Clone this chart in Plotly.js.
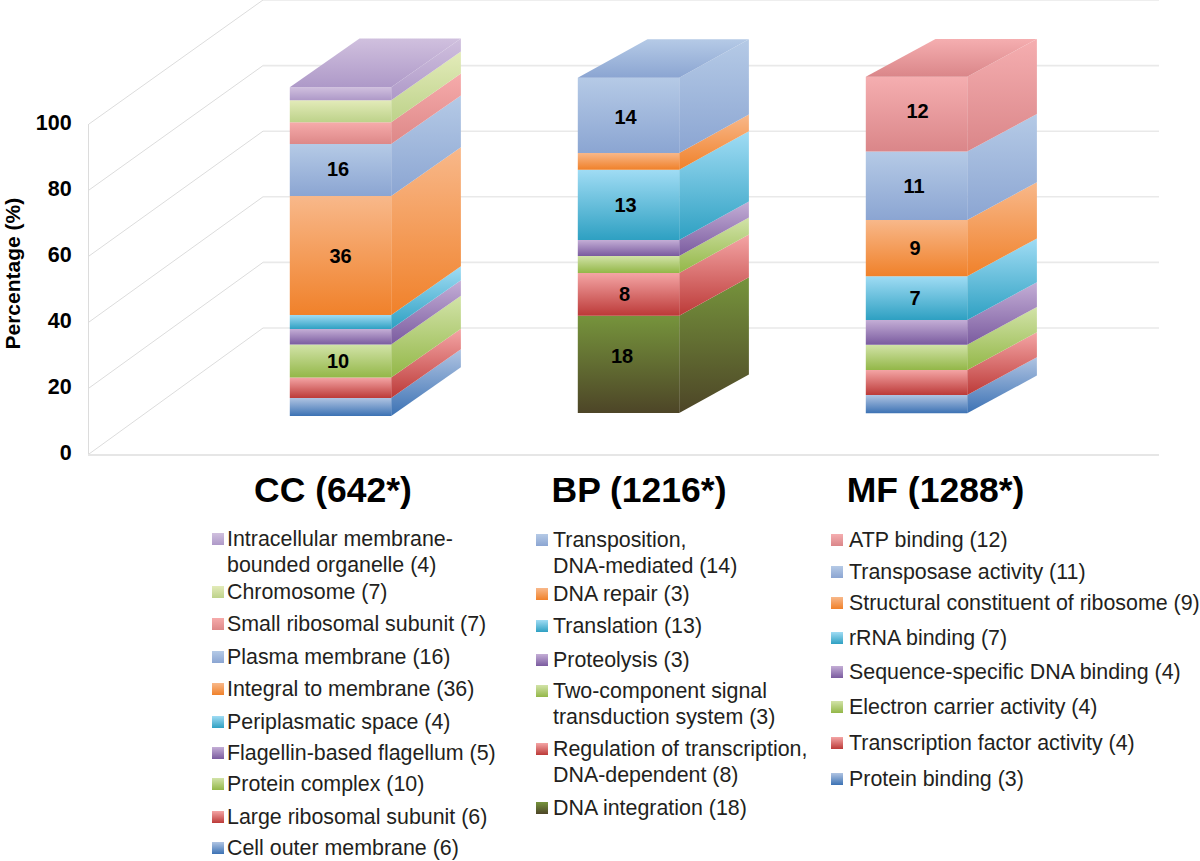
<!DOCTYPE html>
<html><head><meta charset="utf-8">
<script src="https://cdn.plot.ly/plotly-3.0.1.min.js"></script>
<style>html,body{margin:0;padding:0;background:#fff}#c{width:1200px;height:861px}</style>
</head><body><div id="c"></div>
<script>
// ---------- data ----------
const categories = ['CC (642*)', 'BP (1216*)', 'MF (1288*)'];
const yTicks = [0, 20, 40, 60, 80, 100];

// bottom-to-top stacked segment heights (percent)
const ccValues = [5.45, 6.2, 10, 4.7, 4.25, 36.05, 15.75, 6.65, 6.65, 3.95];
const bpValues = [29.5, 12.95, 5.15, 4.85, 21.3, 5.05, 22.8];
const mfValues = [5.55, 7.6, 7.65, 7.5, 13.25, 17.05, 20.7, 22.7];

// printed labels on the segments ('' = none)
const ccLabels = ['', '', '10', '', '', '36', '16', '', '', ''];
const bpLabels = ['18', '8', '', '', '13', '', '14'];
const mfLabels = ['', '', '', '', '7', '9', '11', '12'];

// legend texts, top to bottom
const ccLegend = ['Intracellular membrane-<br>bounded organelle (4)', 'Chromosome (7)', 'Small ribosomal subunit (7)',
  'Plasma membrane (16)', 'Integral to membrane (36)', 'Periplasmatic space (4)', 'Flagellin-based flagellum (5)',
  'Protein complex (10)', 'Large ribosomal subunit (6)', 'Cell outer membrane (6)'];
const bpLegend = ['Transposition,<br>DNA-mediated (14)', 'DNA repair (3)', 'Translation (13)', 'Proteolysis (3)',
  'Two-component signal<br>transduction system (3)', 'Regulation of transcription,<br>DNA-dependent (8)', 'DNA integration (18)'];
const mfLegend = ['ATP binding (12)', 'Transposase activity (11)', 'Structural constituent of ribosome (9)', 'rRNA binding (7)',
  'Sequence-specific DNA binding (4)', 'Electron carrier activity (4)', 'Transcription factor activity (4)', 'Protein binding (3)'];

// ---------- styles ----------
const pal = {
  blueD: ['#b0c4e2', '#3c72b4'], red: ['#f4a5a5', '#bc3a38'], green: ['#d2e3a8', '#93b748'], purpleD: ['#c4aed6', '#7a5b9f'],
  cyan: ['#a0dcf4', '#2ea0c2'], orange: ['#f8b88a', '#f0812a'], blue: ['#b5cae6', '#8ba5d2'], pink: ['#f6abab', '#dd8888'],
  greenL: ['#e3ebb9', '#bdd28a'], purple: ['#d0c0de', '#ae99c8'], olive: ['#76943c', '#4d4527'], rose: ['#f5aeb0', '#da8689']
};
const ccColors = ['blueD', 'red', 'green', 'purpleD', 'cyan', 'orange', 'blue', 'pink', 'greenL', 'purple'];
const bpColors = ['olive', 'red', 'green', 'purpleD', 'cyan', 'orange', 'blue'];
const mfColors = ['blueD', 'red', 'green', 'purpleD', 'cyan', 'orange', 'blue', 'rose'];

const TEXT = '#231f20', FONT = '"Liberation Sans", Arial, sans-serif';
const PX_X0 = 340.5, PX_PER_CAT = 288, PX_Y0 = 454, PX_PER_PCT = 3.3;
const X = px => (px - PX_X0) / PX_PER_CAT;
const Y = px => (PX_Y0 - px) / PX_PER_PCT;
const HALF = 50.7 / PX_PER_CAT, DX = 69.7 / PX_PER_CAT;
const LABEL_DROP = 2;
const barStyle = [
  {base: 38 / PX_PER_PCT, dy: 48.7 / PX_PER_PCT, ny: [0, 0, 0, 0, 0, 0, -1.5, 0, 0, 0], nx: [0, 0, -2.5, 0, 0, 0, -2.5, 0, 0, 0]},
  {base: 41 / PX_PER_PCT, dy: 38.5 / PX_PER_PCT, ny: [-8, 0, 0, 0, 0, 0, 1.5], nx: [-6.5, -4, 0, 0, -3, 0, -3]},
  {base: 40.7 / PX_PER_PCT, dy: 37.7 / PX_PER_PCT, ny: [0, 0, 0, 0, 0, 0, 0, -3], nx: [0, 0, 0, 0, -1.5, -1.5, -2.5, 1]}
];

const traces = [];
const cs = c => [[0, c[1]], [1, c[0]]];
function poly(xs, ys, c) {
  traces.push({type: 'scatter', mode: 'none', x: [...xs, xs[0]], y: [...ys, ys[0]], fill: 'toself',
    fillgradient: {type: 'vertical', colorscale: cs(c)}, hoverinfo: 'skip', showlegend: false});
}

// ---------- wall gridlines ----------
const W0 = X(89), W1 = X(263), WE = X(1159), backUp = 126 / PX_PER_PCT, backScale = 0.994;
const gx = [], gy = [], bx = [], by = [];
yTicks.forEach(v => {
  const vb = backUp + v * backScale;
  gx.push(W0, W1, null); gy.push(v, vb, null);
  bx.push(W1, WE, null); by.push(vb, vb, null);
});
traces.push({type: 'scatter', mode: 'lines', x: gx, y: gy, line: {color: '#dcdcdc', width: 1}, hoverinfo: 'skip', showlegend: false});
traces.push({type: 'scatter', mode: 'lines', x: bx, y: by, line: {color: '#e9e9e9', width: 1.6}, hoverinfo: 'skip', showlegend: false});

// ---------- 3-D stacked bars ----------
[[ccValues, ccColors, ccLabels], [bpValues, bpColors, bpLabels], [mfValues, mfColors, mfLabels]].forEach((b, i) => {
  const s = barStyle[i], xl = i - HALF, xr = i + HALF;
  let y0 = s.base;
  const lx = [], ly = [], lt = [];
  b[0].forEach((v, k) => {
    const y1 = y0 + v, c = pal[b[1][k]];
    poly([xr, xr + DX, xr + DX, xr], [y0, y0 + s.dy, y1 + s.dy, y1], c);
    if (b[2][k]) { lx.push(i + s.nx[k] / PX_PER_CAT); ly.push((y0 + y1) / 2 - (s.ny[k] + LABEL_DROP) / PX_PER_PCT); lt.push(b[2][k]); }
    poly([xl, xr, xr, xl], [y0, y0, y1, y1], c);
    y0 = y1;
  });
  poly([xl, xr, xr + DX, xl + DX], [y0, y0, y0 + s.dy, y0 + s.dy], pal[b[1][b[1].length - 1]]);
  traces.push({type: 'scatter', mode: 'text', x: lx, y: ly, text: lt, textposition: 'middle center',
    textfont: {family: FONT, size: 20, color: '#000', weight: 700}, hoverinfo: 'skip', showlegend: false});
});

// ---------- legend columns (drawn as marker + text traces) ----------
const LEGEND_TEXT_DROP = 1.5;
const legendCols = [
  {items: ccLegend, colors: ccColors.slice().reverse(), sw: 218, tx: 227, rows: [539, 565, 592, 624, 657, 689, 722, 753, 784, 817, 848]},
  {items: bpLegend, colors: bpColors.slice().reverse(), sw: 542, tx: 553, rows: [540, 566, 594, 626, 660, 691, 717, 749, 775, 808]},
  {items: mfLegend, colors: mfColors.slice().reverse(), sw: 837, tx: 849, rows: [540, 572, 603, 638, 672, 707, 743, 779]}
];
legendCols.forEach(col => {
  const tx = [], ty = [], tt = [], sy = [], sc = [], sg = [];
  let r = 0;
  col.items.forEach((label, k) => {
    const lines = label.split('<br>'), c = pal[col.colors[k]];
    sy.push(Y(col.rows[r])); sc.push(c[0]); sg.push(c[1]);
    lines.forEach(line => { tx.push(X(col.tx)); ty.push(Y(col.rows[r] + LEGEND_TEXT_DROP)); tt.push(line); r++; });
  });
  traces.push({type: 'scatter', mode: 'markers', x: sy.map(() => X(col.sw)), y: sy,
    marker: {symbol: 'square', size: 12, color: sc, line: {width: 0}, gradient: {type: 'vertical', color: sg}},
    hoverinfo: 'skip', showlegend: false});
  traces.push({type: 'scatter', mode: 'text', x: tx, y: ty, text: tt, textposition: 'middle right',
    textfont: {family: FONT, size: 21.4, color: TEXT}, hoverinfo: 'skip', showlegend: false});
});

// empty trace that keeps the front-wall axes alive
traces.push({type: 'scatter', mode: 'none', x: [0], y: [0], xaxis: 'x2', yaxis: 'y2', hoverinfo: 'skip', showlegend: false});

const layout = {
  width: 1200, height: 861, autosize: false, showlegend: false,
  paper_bgcolor: '#fff', plot_bgcolor: 'rgba(0,0,0,0)',
  margin: {l: 0, r: 0, t: 0, b: 0, pad: 0},
  font: {family: FONT, color: '#000'},
  // full-canvas axes share the scale of the front-wall axes, so the 3-D faces can rise above the wall
  xaxis: {domain: [0, 1], range: [X(0), X(1200)], visible: false, fixedrange: true},
  yaxis: {domain: [0, 1], range: [Y(861), Y(0)], visible: false, fixedrange: true},
  xaxis2: {domain: [89 / 1200, 1159 / 1200], anchor: 'y2', range: [W0, WE], tickmode: 'array', tickvals: [X(333), X(639), X(935.5)], ticktext: categories,
    ticks: '', ticklen: 0, ticklabelstandoff: 3, showgrid: false, zeroline: false, showline: true, linecolor: '#e6e6e6', linewidth: 2,
    tickfont: {family: FONT, size: 35.5, color: '#000', weight: 700}, fixedrange: true},
  yaxis2: {domain: [(861 - 454) / 861, (861 - 124) / 861], anchor: 'x2', range: [0, 100], tickmode: 'array', tickvals: yTicks, ticktext: yTicks.map(String),
    ticks: '', ticklen: 0, ticklabelstandoff: 12, ticklabelshift: -2, showgrid: false, zeroline: false, showline: true, linecolor: '#dcdcdc', linewidth: 1,
    tickfont: {family: FONT, size: 21.5, color: '#000', weight: 700}, fixedrange: true},
  annotations: [{text: 'Percentage (%)', xref: 'paper', yref: 'paper', x: 12 / 1200, y: (861 - 273.5) / 861, xanchor: 'center', yanchor: 'middle',
    textangle: -90, showarrow: false, font: {family: FONT, size: 21, color: '#000', weight: 700}}]
};
Plotly.newPlot('c', traces, layout, {displayModeBar: false, responsive: false});
</script>
</body></html>
